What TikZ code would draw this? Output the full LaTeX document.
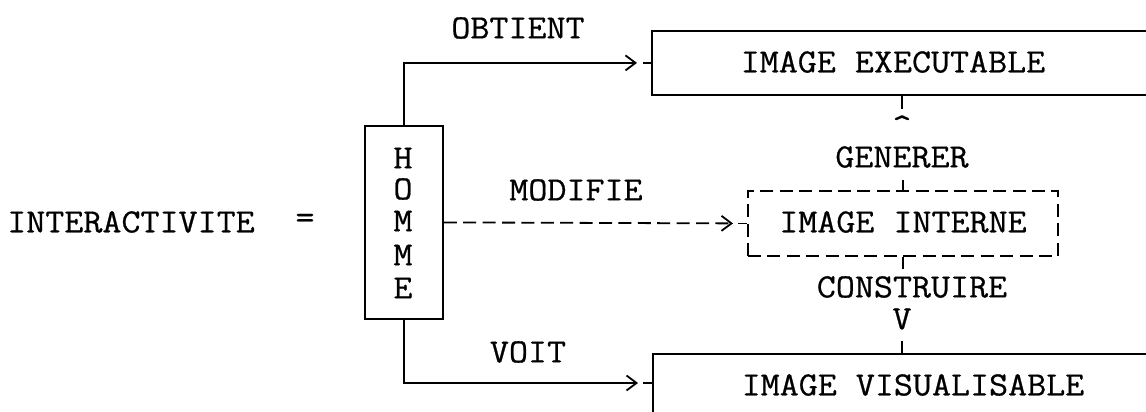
\documentclass[tikz,border=0pt]{standalone}
\usepackage{fontspec}
\newfontfamily\twfont{Latin Modern Mono}[FakeStretch=1.087,FakeBold=0.6]
\usetikzlibrary{arrows.meta,calc}
\begin{document}
\begin{tikzpicture}[x=0.5pt,y=-0.5pt,
  txt/.style={font=\fontsize{17}{20}\selectfont\twfont, inner sep=0pt},
  ln/.style={line width=0.9pt},
  boxsolid/.style={draw, ln, rectangle, anchor=north west, inner sep=0pt},
  boxdash/.style={boxsolid, dash pattern=on 6.5pt off 3.2pt},
  conn/.style={ln, -{Straight Barb[length=5pt,width=7.5pt]}},
  dconn/.style={conn, dash pattern=on 6.5pt off 3.2pt},
  tick/.style={ln}
]
\useasboundingbox (0,0) rectangle (1146,412);
\clip (0,0) rectangle (1146,412);
\fill[white] (0,0) rectangle (1146,412);

% boxes
\node[boxsolid, minimum width=249.5pt, minimum height=32pt] (exec) at (651,30) {};
\node[boxdash, minimum width=155pt, minimum height=32.5pt] (internal) at (747,190) {};
\node[boxsolid, minimum width=249pt, minimum height=45pt] (vis) at (652,353) {};
\node[boxsolid, minimum width=39pt, minimum height=96.5pt] (homme) at (364,125) {};
\coordinate (visin) at (652,383);

% letters of HOMME
\node[txt] (h1) at (403,158) {H};
\node[txt] (h2) at (403,189) {O};
\node[txt] (h3) at (403,221) {M};
\node[txt] (h4) at (403,255) {M};
\node[txt] (h5) at (403,288) {E};

% texts
\node[txt] (inter) at (131,222) {INTERACTIVITE};
\node[txt] (eq) at (305,221) {=};
\node[txt] (obt) at (518,28) {OBTIENT};
\node[txt] (mod) at (576,190) {MODIFIE};
\node[txt] (voit) at (528,352) {VOIT};
\node[txt] (exectxt) at (893,62) {IMAGE EXECUTABLE};
\node[txt] (intxt) at (903,222) {IMAGE INTERNE};
\node[txt] (vistxt) at (913,385) {IMAGE VISUALISABLE};
\node[txt] (gen) at (902,157) {GENERER};
\node[txt] (cons) at (912,287) {CONSTRUIRE};
\node[txt] (vv) at (902,319) {V};
\node[txt] (caret) at (902,126) {\textasciicircum};

% connectors
\draw[conn] (homme.north) |- ($(exec.west)+(-14,0)$);
\draw[tick] (exec.west) -- ++(-8,0);
\draw[dconn] (homme.east) -- ($(internal.west)+(-14,0)$);
\draw[tick] (internal.west) -- ++(-9,0);
\draw[conn] (homme.south) |- ($(visin)+(-14,0)$);
\draw[tick] (visin) -- ++(-9,0);

\draw[tick] (internal.north) -- ++(0,-10);
\draw[tick] (exec.south -| gen) -- ++(0,13);
\draw[tick] (internal.south) -- ++(0,12);
\draw[tick] (vis.north -| vv) -- ++(0,-12);
\end{tikzpicture}
\end{document}
